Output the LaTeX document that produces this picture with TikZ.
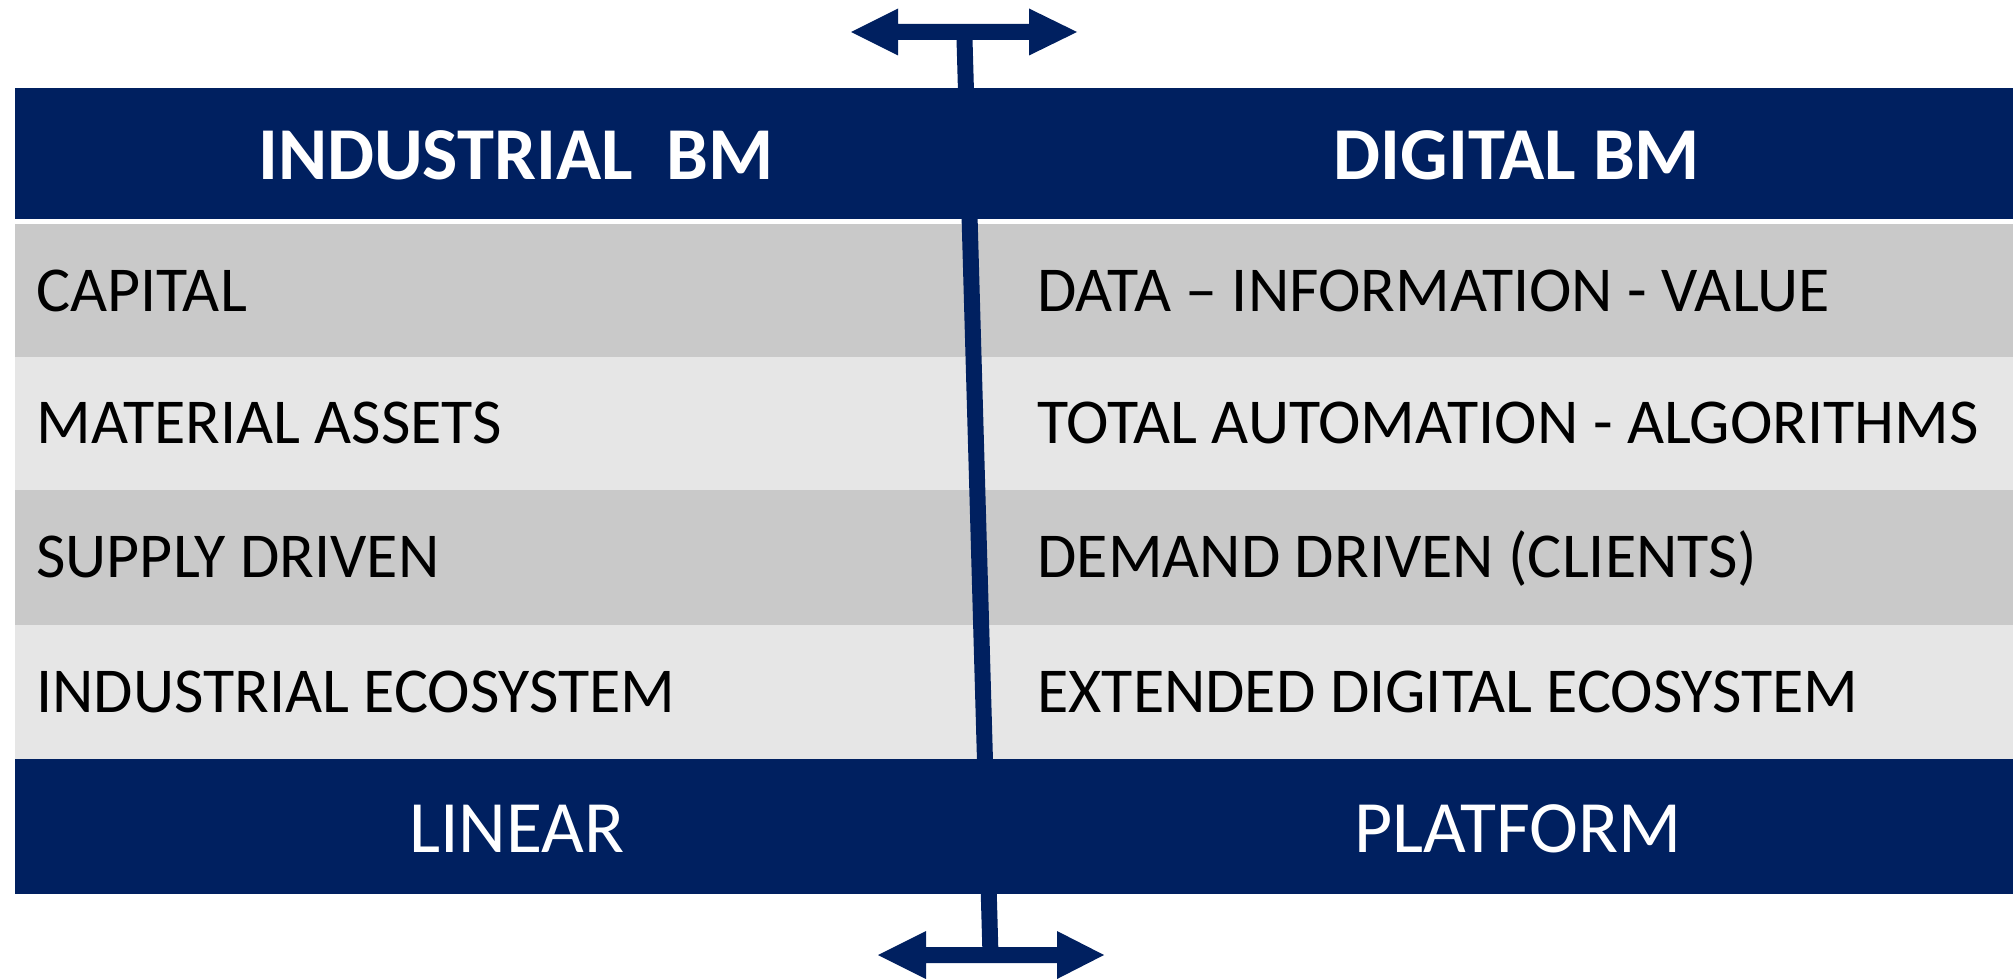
\documentclass[tikz,border=0pt]{standalone}
\usepackage{fontspec}
\setmainfont{Carlito}
\definecolor{navy}{HTML}{002060}
\definecolor{rowdark}{HTML}{C9C9C9}
\definecolor{rowlight}{HTML}{E6E6E6}
\begin{document}
\begin{tikzpicture}[x=0.5pt,y=-0.5pt,
  cell/.style={inner sep=0pt, anchor=base west, text=black, font=\fontsize{32}{36}\selectfont},
  head/.style={inner sep=0pt, anchor=base, text=white, font=\bfseries\fontsize{37.3}{41}\selectfont},
  foot/.style={inner sep=0pt, anchor=base, text=white, font=\fontsize{36.9}{41}\selectfont},
  band/.style={fill=navy},
  divider/.style={draw=navy, line width=8pt},
  dblarrow/.style={fill=navy}]
\useasboundingbox (0,0) rectangle (2013,979);
\fill[white] (0,0) rectangle (2013,979);
% bands and rows
\fill[band] (15,88) rectangle (2013,219);
\fill[rowdark] (15,224) rectangle (2013,357);
\fill[rowlight] (15,357) rectangle (2013,490);
\fill[rowdark] (15,490) rectangle (2013,625);
\fill[rowlight] (15,625) rectangle (2013,759);
\fill[band] (15,759) rectangle (2013,894);
% divider
\coordinate (top) at (964.3,32);
\coordinate (bot) at (990.5,955);
\draw[divider] (top) -- (bot);
% arrows
\fill[dblarrow] (851,32) -- (898,8.5) -- (898,24) -- (1029,24) -- (1029,8.5) -- (1077,32)
  -- (1029,55.5) -- (1029,40) -- (898,40) -- (898,55.5) -- cycle;
\fill[dblarrow] (878,955) -- (926,931) -- (926,947) -- (1057,947) -- (1057,931) -- (1104,955)
  -- (1057,979) -- (1057,963) -- (926,963) -- (926,979) -- cycle;
% headers
\node[head] (hl) at (516,179) {INDUSTRIAL\ \ BM};
\node[head] (hr) at (1517,179) {DIGITAL BM};
% left column
\node[cell] (l1) at (36,311) {CAPITAL};
\node[cell] (l2) at (36,443.5) {MATERIAL ASSETS};
\node[cell] (l3) at (36,577.5) {SUPPLY DRIVEN};
\node[cell] (l4) at (36,712) {INDUSTRIAL ECOSYSTEM};
% right column
\node[cell] (r1) at (1037,311) {DATA – INFORMATION - VALUE};
\node[cell] (r2) at (1037,443.5) {TOTAL AUTOMATION - ALGORITHMS};
\node[cell] (r3) at (1037,577.5) {DEMAND DRIVEN (CLIENTS)};
\node[cell] (r4) at (1037,712) {EXTENDED DIGITAL ECOSYSTEM};
% footer
\node[foot] (fl) at (517,852) {LINEAR};
\node[foot] (fr) at (1518,852) {PLATFORM};
\end{tikzpicture}
\end{document}
